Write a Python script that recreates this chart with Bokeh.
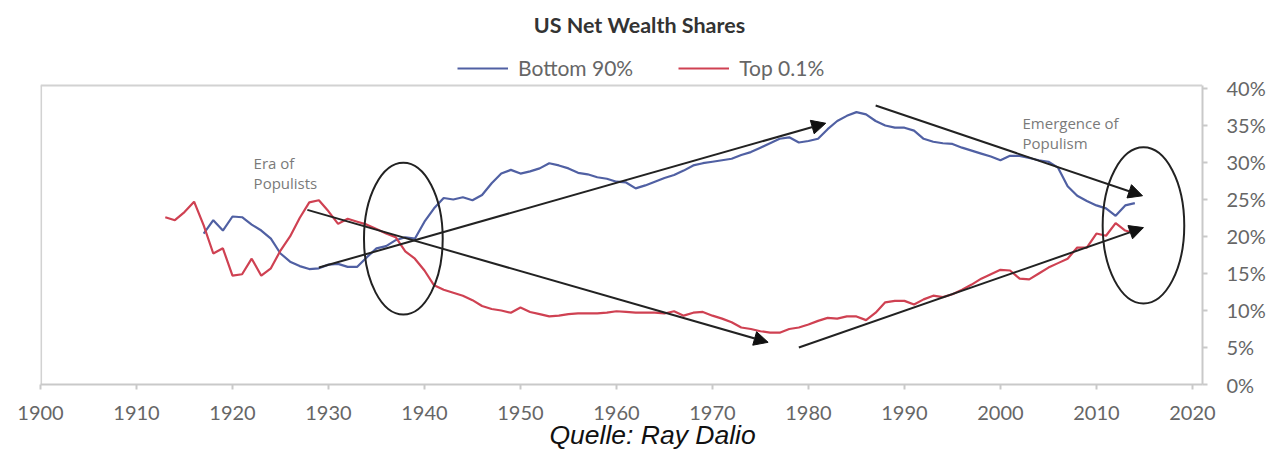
from bokeh.plotting import figure
from bokeh.models import (Range1d, Legend, LegendItem, Title, Arrow, NormalHead, Span,
                          FixedTicker, PrintfTickFormatter, ColumnDataSource, Label)
from bokeh.embed import file_html
from bokeh.resources import INLINE

# ---------------- data ----------------
top_years = list(range(1913, 2015))
top_01 = [22.6, 22.2, 23.3, 24.7, 21.5, 17.7, 18.4, 14.7, 14.9, 17.0,
          14.7, 15.7, 18.1, 20.0, 22.5, 24.6, 24.9, 23.4, 21.7, 22.4,
          22.0, 21.6, 21.0, 20.4, 19.9, 18.0, 17.0, 15.4, 13.4, 12.8,
          12.4, 12.0, 11.4, 10.6, 10.2, 10.0, 9.7, 10.4, 9.8, 9.5,
          9.2, 9.3, 9.5, 9.6, 9.6, 9.6, 9.7, 9.9, 9.8, 9.7,
          9.7, 9.7, 9.6, 9.9, 9.3, 9.7, 9.8, 9.3, 8.9, 8.4,
          7.7, 7.5, 7.2, 7.0, 7.0, 7.5, 7.7, 8.1, 8.6, 9.0,
          8.9, 9.2, 9.2, 8.7, 9.7, 11.1, 11.3, 11.3, 10.8, 11.5,
          12.0, 11.8, 12.2, 12.8, 13.5, 14.3, 14.9, 15.5, 15.4, 14.3,
          14.2, 15.0, 15.8, 16.4, 17.0, 18.5, 18.5, 20.4, 20.1, 21.8,
          20.8, 20.4]

bottom_years = list(range(1917, 2015))
bottom_90 = [20.4, 22.2, 20.8, 22.7, 22.6, 21.6, 20.8, 19.7, 17.7, 16.6,
             16.0, 15.6, 15.7, 16.2, 16.3, 15.9, 15.9, 17.2, 18.4, 18.7,
             19.5, 19.9, 19.7, 22.0, 23.8, 25.2, 25.0, 25.3, 24.9, 25.6,
             27.2, 28.5, 29.0, 28.5, 28.8, 29.2, 29.9, 29.6, 29.2, 28.6,
             28.4, 28.0, 27.8, 27.4, 27.3, 26.5, 26.9, 27.4, 27.9, 28.3,
             28.9, 29.6, 29.9, 30.1, 30.3, 30.5, 31.0, 31.4, 32.0, 32.6,
             33.2, 33.4, 32.7, 32.9, 33.2, 34.5, 35.6, 36.3, 36.8, 36.5,
             35.6, 35.0, 34.7, 34.7, 34.3, 33.2, 32.8, 32.6, 32.5, 32.0,
             31.6, 31.2, 30.8, 30.3, 30.9, 30.9, 30.6, 30.3, 30.1, 29.3,
             26.8, 25.5, 24.8, 24.2, 23.8, 22.8, 24.2, 24.5]

x_ticks = [1900, 1910, 1920, 1930, 1940, 1950, 1960, 1970, 1980, 1990, 2000, 2010, 2020]
y_ticks = [0, 5, 10, 15, 20, 25, 30, 35, 40]
Y_TOP = 40.4          # top of the chart box (percent)

# annotation geometry (year, percent)
arrow_x0 = [1929.0, 1927.8, 1987.0, 1979.0]
arrow_y0 = [15.8, 23.6, 37.7, 5.0]
arrow_x1 = [1981.8, 1975.8, 2014.8, 2014.9]
arrow_y1 = [35.3, 5.7, 25.5, 21.2]
ellipse_x = [1937.8, 2014.9]
ellipse_y = [19.7, 21.5]
ellipse_w = [8.2, 8.5]
ellipse_h = [20.5, 21.1]
note_x = [1922.2, 1922.2, 2002.3, 2002.3]
note_y = [29.9, 27.2, 35.3, 32.6]
note_text = ["Era of", "Populists", "Emergence of", "Populism"]

BLUE = "#5060a3"
RED = "#cf4152"
AXIS = "#c9c9c9"
TXT = "#666666"

W, H = 1274, 456
FR_L, FR_R, FR_B = 40, 1202, 384          # frame edges in page pixels
Y_TOP_PX = 85
y_max = Y_TOP * FR_B / (FR_B - Y_TOP_PX)  # frame reaches the top of the page

p = figure(width=W, height=H, output_backend="svg", toolbar_location=None,
           x_range=Range1d(1900, 2021.05), y_range=Range1d(0, y_max),
           y_axis_location="right",
           min_border_left=FR_L, min_border_right=W - FR_R, min_border_top=0,
           min_border_bottom=H - FR_B)

p.xgrid.visible = False
p.ygrid.visible = False
p.outline_line_color = None
p.background_fill_color = "white"
p.border_fill_color = "white"

for ax in (p.xaxis[0], p.yaxis[0]):
    ax.axis_line_color = AXIS
    ax.axis_line_width = 2
    ax.major_tick_line_color = AXIS
    ax.major_tick_line_width = 2
    ax.major_tick_in = 0
    ax.major_tick_out = 5
    ax.minor_tick_line_color = None
    ax.major_label_text_font = "Lato"
    ax.major_label_text_font_size = "20px"
    ax.major_label_text_color = TXT

p.xaxis[0].ticker = FixedTicker(ticks=x_ticks)
p.xaxis[0].major_label_standoff = 16
p.yaxis[0].ticker = FixedTicker(ticks=y_ticks)
p.yaxis[0].formatter = PrintfTickFormatter(format="%d%%")
p.yaxis[0].bounds = (0, Y_TOP)
p.yaxis[0].major_label_standoff = 19

# light box: top edge and left edge
p.add_layout(Span(location=Y_TOP, dimension="width", line_color="#d2d2d2", line_width=2))
p.segment(x0=[1900.06], y0=[0], x1=[1900.06], y1=[Y_TOP], line_color="#d2d2d2", line_width=2)

src_b = ColumnDataSource(dict(x=bottom_years, y=bottom_90))
src_t = ColumnDataSource(dict(x=top_years, y=top_01))
rb = p.line("x", "y", source=src_b, line_color=BLUE, line_width=2.2)
rt = p.line("x", "y", source=src_t, line_color=RED, line_width=2.2)

p.ellipse(x=ellipse_x, y=ellipse_y, width=ellipse_w, height=ellipse_h,
          fill_color=None, line_color="#222222", line_width=2)

for x0, y0, x1, y1 in zip(arrow_x0, arrow_y0, arrow_x1, arrow_y1):
    p.add_layout(Arrow(x_start=x0, y_start=y0, x_end=x1, y_end=y1,
                       line_color="#222222", line_width=2,
                       end=NormalHead(size=14, fill_color="#111111", line_color="#111111")))

for tx, ty, tt in zip(note_x, note_y, note_text):
    p.add_layout(Label(x=tx, y=ty, text=tt, text_font="Open Sans", text_font_size="15px",
                       text_color="#7a7a7a", text_baseline="middle", text_align="left"))

# chart title
p.add_layout(Label(x=1962.4, y=y_max - 24 * y_max / FR_B, text="US Net Wealth Shares",
                   text_font="Lato", text_font_style="bold", text_font_size="21.5px",
                   text_color="#333333", text_align="center", text_baseline="middle"))

legend = Legend(items=[LegendItem(label="Bottom 90%", renderers=[rb]),
                       LegendItem(label="Top 0.1%", renderers=[rt])],
                orientation="horizontal", location=(457 - FR_L, FR_B - 80),
                label_text_font="Lato", label_text_font_size="21px",
                label_text_color=TXT, glyph_width=51, glyph_height=24, label_height=24,
                label_standoff=10, spacing=45, padding=0, margin=0,
                border_line_color=None, background_fill_alpha=0)
p.add_layout(legend, "center")

cap = Title(text="Quelle: Ray Dalio", align="left", offset=549 - FR_L, standoff=-9,
            text_font="Liberation Sans", text_font_style="italic",
            text_font_size="26.5px", text_color="#111111")
p.add_layout(cap, "below")

open("out.html", "w").write(file_html(p, INLINE))
